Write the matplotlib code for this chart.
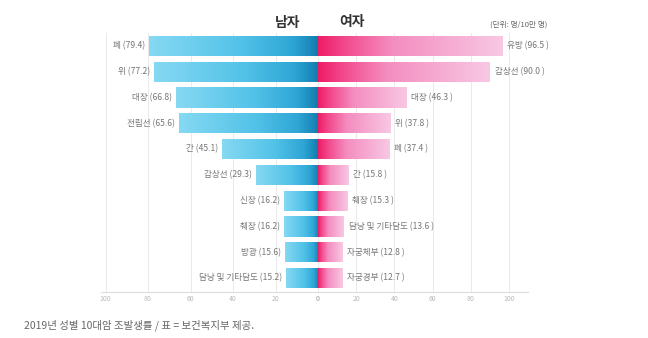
import numpy as np
import matplotlib
matplotlib.use("Agg")
import matplotlib.pyplot as plt
from matplotlib.colors import LinearSegmentedColormap

plt.rcParams["font.family"] = ["Noto Sans CJK KR", "DejaVu Sans"]

# ---------------------------------------------------------------------
# Data
# ---------------------------------------------------------------------
male_sites = ["폐", "위", "대장", "전립선", "간", "갑상선", "신장", "췌장", "방광", "담낭 및 기타담도"]
male_rates = [79.4, 77.2, 66.8, 65.6, 45.1, 29.3, 16.2, 16.2, 15.6, 15.2]
female_sites = ["유방", "갑상선", "대장", "위", "폐", "간", "췌장", "담낭 및 기타담도", "자궁체부", "자궁경부"]
female_rates = [96.5, 90.0, 46.3, 37.8, 37.4, 15.8, 15.3, 13.6, 12.8, 12.7]
ticks = [0, 20, 40, 60, 80, 100]

male_cmap = LinearSegmentedColormap.from_list(
    "male", [(0, "#86d9f3"), (0.55, "#52c2e8"), (0.85, "#2ea6d5"), (0.96, "#1989ba"), (1, "#137aa8")])
female_cmap = LinearSegmentedColormap.from_list(
    "female", [(0, "#ee1c66"), (0.14, "#f2488b"), (0.4, "#f48dc0"), (1, "#f8c8e3")])

W, H = 648, 338
fig = plt.figure(figsize=(W / 100, H / 100), dpi=100)
bottom, top = 1 - 292 / H, 1 - 33 / H
axL = fig.add_axes([101.25 / W, bottom, (318 - 101.25) / W, top - bottom])
axR = fig.add_axes([318 / W, bottom, 210 / W, top - bottom])

y = np.arange(len(male_rates))
grad = np.linspace(0, 1, 256).reshape(1, -1)


def draw_side(ax, rates, sites, cmap, left):
    bars = ax.barh(y, rates, height=0.78, color="none", edgecolor="none", zorder=2)
    for b, v, s in zip(bars, rates, sites):
        x0, y0, w, h = b.get_x(), b.get_y(), b.get_width(), b.get_height()
        ext = [x0 + w, x0, y0 + h, y0] if left else [x0, x0 + w, y0 + h, y0]
        im = ax.imshow(grad, extent=ext, aspect="auto", cmap=cmap, zorder=2,
                       interpolation="bilinear")
        im.set_clip_path(b)
        if left:
            ax.text(v + 1.8, y0 + h / 2, f"{s} ({v:.1f})", ha="right", va="center",
                    fontsize=6.2, color="#777777")
        else:
            ax.text(v + 2.5, y0 + h / 2, f"{s} ({v:.1f} )", ha="left", va="center",
                    fontsize=6.2, color="#777777")
    ax.set_ylim(9.54, -0.5)
    ax.set_xticks(ticks)
    ax.set_xticklabels([str(t) for t in ticks], fontsize=5, color="#bbbbbb")
    ax.tick_params(axis="x", length=0, pad=2)
    ax.set_yticks([])
    ax.grid(axis="x", color="#eaeaea", linewidth=0.7, zorder=0)
    ax.set_axisbelow(True)
    for sp in ["top", "left", "right"]:
        ax.spines[sp].set_visible(False)
    ax.spines["bottom"].set_color("#dddddd")
    ax.spines["bottom"].set_linewidth(0.8)
    ax.patch.set_alpha(0)


draw_side(axL, male_rates, male_sites, male_cmap, left=True)
axL.set_xlim(102, 0)
draw_side(axR, female_rates, female_sites, female_cmap, left=False)
axR.set_xlim(0, 110)

fig.text(288 / W, 1 - 23 / H, "남자", ha="center", va="center", fontsize=10, fontweight="bold", color="#333333")
fig.text(352 / W, 1 - 22 / H, "여자", ha="center", va="center", fontsize=10, fontweight="bold", color="#333333")
fig.text(547 / W, 1 - 25 / H, "(단위: 명/10만 명)", ha="right", va="center", fontsize=5.5, color="#666666")
fig.text(24 / W, 1 - 325 / H, "2019년 성별 10대암 조발생률 / 표 = 보건복지부 제공.", ha="left", va="center",
         fontsize=7.5, color="#666666")

fig.savefig("out.png", dpi=100, facecolor="white")
